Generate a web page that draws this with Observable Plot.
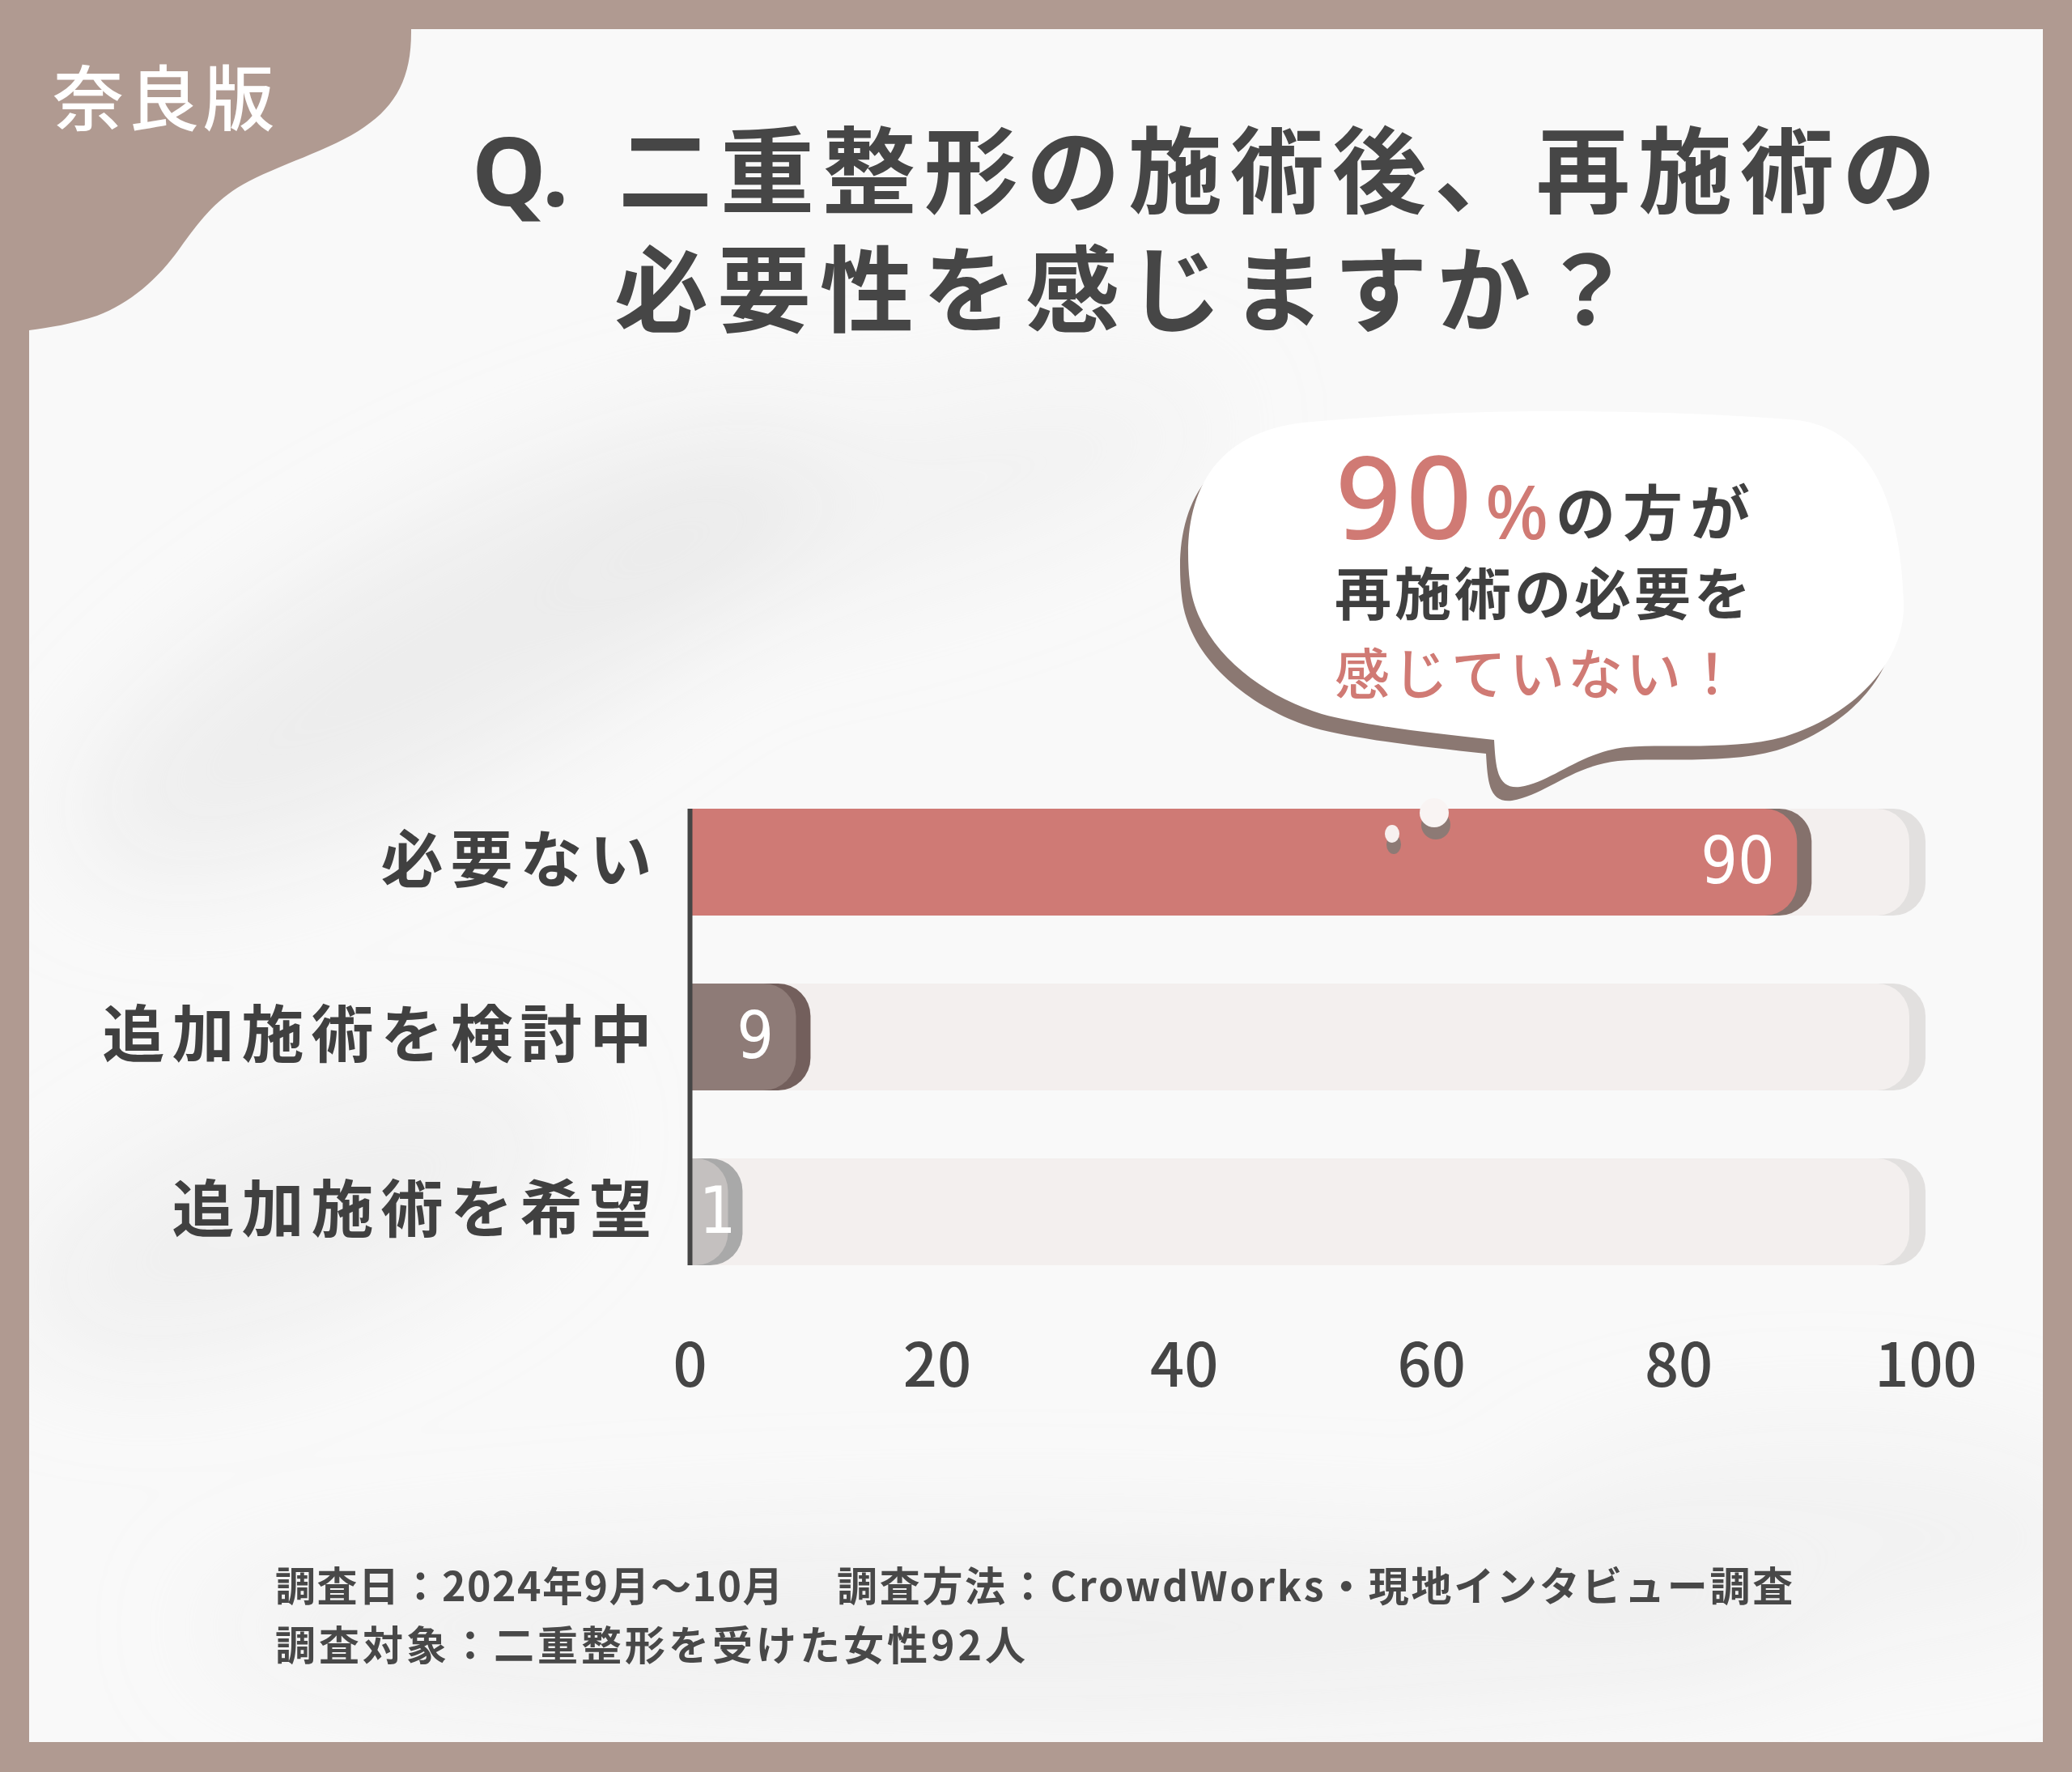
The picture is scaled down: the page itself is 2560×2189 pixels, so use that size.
<!DOCTYPE html>
<html lang="ja">
<head>
<meta charset="utf-8">
<script src="https://cdn.jsdelivr.net/npm/d3@7"></script>
<script src="https://cdn.jsdelivr.net/npm/@observablehq/plot@0.6"></script>
<style>
  html, body { margin: 0; padding: 0; background: #b09a91; }
  #page { position: relative; width: 2560px; height: 2189px; overflow: hidden; background: #b09a91;
          font-family: "Noto Sans CJK JP", "Noto Sans", sans-serif; }
  .layer { position: absolute; left: 0; top: 0; }
  #chart { position: absolute; left: 0; top: 900px; }
  #chart g[aria-label="y-axis tick label"] text { letter-spacing: 9px; font-weight: 700; }
</style>
</head>
<body>
<div id="page">
  <svg class="layer" width="2560" height="2189" id="bg">
    <defs>
      <filter id="soft" x="-50%" y="-50%" width="200%" height="200%"><feGaussianBlur stdDeviation="70"/></filter>
      <clipPath id="panelClip"><rect x="36" y="36" width="2488" height="2116"/></clipPath>
    </defs>
    <rect x="36" y="36" width="2488" height="2116" fill="#f9f9f9"/>
    <g clip-path="url(#panelClip)">
      <g filter="url(#soft)" fill="#e4e4e4">
        <ellipse cx="560" cy="800" rx="520" ry="150" transform="rotate(-28 560 800)" opacity="0.55"/>
        <ellipse cx="360" cy="1500" rx="360" ry="140" transform="rotate(-20 360 1500)" opacity="0.45"/>
        <ellipse cx="1250" cy="2010" rx="1000" ry="110" opacity="0.45"/>
        <ellipse cx="1100" cy="620" rx="420" ry="100" transform="rotate(-15 1100 620)" opacity="0.35"/>
        <ellipse cx="2250" cy="1900" rx="380" ry="130" opacity="0.3"/>
      </g>
    </g>
    <path d="M36 36 H508 V40 C508 95 490 130 450 157 C410 185 340 205 300 228 C265 248 245 275 222 307 C195 345 160 375 120 390 C90 400 60 405 36 408 Z" fill="#b09a91"/>
    <!-- speech bubble -->
    <g transform="translate(-10,17)">
      <path id="bubbleShadow" fill="#8b7872" d=""/>
    </g>
    <path id="bubbleBody" fill="#ffffff" d=""/>
  </svg>
  <div id="chart"></div>
  <svg class="layer" width="2560" height="2189" id="fg"></svg>
</div>
<script>
// ---------- data ----------
const categories = ["必要ない", "追加施術を検討中", "追加施術を希望"];
const values = [90, 9, 1];
const xTicks = [0, 20, 40, 60, 80, 100];
const barColors = ["#cf7a75", "#8e7b77", "#c4c0bf"];
const shadeColors = ["#85716c", "#735f5c", "#a9a9a9"];

const badgeText = "奈良版";
const titleQ = "Q.";
const titleLine1 = "二重整形の施術後、再施術の";
const titleLine2 = "必要性を感じますか？";
const calloutNumber = "90";
const calloutPercent = "%";
const calloutLine1Rest = "の方が";
const calloutLine2 = "再施術の必要を";
const calloutLine3 = "感じていない！";
const footDate = "調査日：2024年9月～10月";
const footMethod = "調査方法：CrowdWorks・現地インタビュー調査";
const footTarget = "調査対象：二重整形を受けた女性92人";

// ---------- style constants ----------
const X_MAX = 100;
const MIN_BAR = 3.5;   // minimum visible bar length (style)
const bubblePath = "M 1470 719 C 1458 610, 1500 535, 1610 522 C 1810 503, 2050 505, 2221 519 C 2305 530, 2348 610, 2352 743 C 2355 810, 2300 880, 2205 910 C 2140 928, 2060 918, 2009 923 C 1950 930, 1920 965, 1878 972 C 1850 975, 1848 950, 1846 914 C 1760 905, 1680 895, 1633 882 C 1560 860, 1478 800, 1470 719 Z";
document.getElementById("bubbleShadow").setAttribute("d", bubblePath);
document.getElementById("bubbleBody").setAttribute("d", bubblePath);

// ---------- chart ----------
const rows = categories.map((c, i) => ({label: c, value: values[i], main: barColors[i], shade: shadeColors[i]}));
const big = rows.filter(d => d.value >= 5);
const small = rows.filter(d => d.value < 5);

const chart = Plot.plot({
  width: 2560,
  height: 900,
  marginLeft: 852,
  marginRight: 181,
  marginTop: 99,
  marginBottom: 237,
  style: {background: "transparent", fontFamily: "'Noto Sans CJK JP', 'Noto Sans', sans-serif", overflow: "visible"},
  x: {domain: [0, X_MAX]},
  y: {domain: categories, paddingInner: 0.39, paddingOuter: 0},
  marks: [
    Plot.barX(rows, {y: "label", x1: 0, x2: X_MAX, fill: "#e2e0df", insetLeft: -60, rx: 40, clip: true}),
    Plot.barX(rows, {y: "label", x1: 0, x2: X_MAX, fill: "#f3efee", insetLeft: -60, insetRight: 20, rx: 40, clip: true}),
    Plot.barX(rows, {y: "label", x1: 0, x2: d => Math.max(d.value, MIN_BAR), fill: d => d.shade, insetLeft: -60, insetRight: -12, rx: 40, clip: true}),
    Plot.barX(rows, {y: "label", x1: 0, x2: d => Math.max(d.value, MIN_BAR), fill: d => d.main, insetLeft: -60, insetRight: 6, rx: 40, clip: true}),
    Plot.text(big, {y: "label", x: "value", text: d => String(d.value), textAnchor: "end", dx: -34, fill: "white",
      fontSize: 80, fontFamily: "'Liberation Sans Narrow', 'DejaVu Sans Condensed', sans-serif"}),
    Plot.text(small, {y: "label", x: "value", text: d => String(d.value), textAnchor: "start", dx: -4, fill: "white",
      fontSize: 80, fontFamily: "'Liberation Sans Narrow', 'DejaVu Sans Condensed', sans-serif"}),
    Plot.ruleX([0], {stroke: "#454545", strokeWidth: 6}),
    Plot.axisY({tickSize: 0, tickPadding: 38, fontSize: 77, fontWeight: 700, fill: "#404040", label: null}),
    Plot.axisX({ticks: xTicks, tickSize: 0, tickPadding: 97, fontSize: 74, fontWeight: 500, fill: "#454545", label: null})
  ]
});
document.getElementById("chart").appendChild(chart);

// ---------- foreground texts & decorations ----------
const fg = d3.select("#fg");
function txt(x, y, s, size, color, weight, ls, family) {
  return fg.append("text").attr("x", x).attr("y", y).text(s)
    .attr("font-size", size).attr("fill", color).attr("font-weight", weight)
    .attr("letter-spacing", ls || 0)
    .attr("font-family", family || "'Noto Sans CJK JP', 'Noto Sans', sans-serif");
}
// badge
txt(65, 154, badgeText, 88, "#ffffff", 500, 5);
// title
const titleColor = "#464646";
txt(583, 254, titleQ, 116, titleColor, 700, 0, "'Noto Sans', 'Noto Sans CJK JP', sans-serif");
txt(764, 254, titleLine1, 116, titleColor, 700, 10);
txt(759, 401, titleLine2, 116, titleColor, 700, 11);
// callout
const salmon = "#d07a74";
txt(1650, 666, calloutNumber, 142, salmon, 500, 6, "'Noto Sans', sans-serif");
txt(1835, 666, calloutPercent, 92, salmon, 500, 0, "'Noto Sans', sans-serif");
txt(1922, 661, calloutLine1Rest, 74, "#404040", 700, 9);
txt(1649, 760, calloutLine2, 70, "#3f3f3f", 700, 4);
txt(1649, 858, calloutLine3, 68, salmon, 500, 4);
// decorative droplets
fg.append("ellipse").attr("cx", 1722).attr("cy", 1043).attr("rx", 9).attr("ry", 12).attr("fill", "#8d7a75");
fg.append("ellipse").attr("cx", 1720).attr("cy", 1030).attr("rx", 9).attr("ry", 11).attr("fill", "#f7f0ef");
fg.append("circle").attr("cx", 1774).attr("cy", 1019).attr("r", 18).attr("fill", "#8d7a75");
fg.append("circle").attr("cx", 1772).attr("cy", 1004).attr("r", 18).attr("fill", "#f9f4f3");
// footer
txt(340, 1978, footDate, 50, "#484848", 700, 1.5);
txt(1034, 1978, footMethod, 50, "#484848", 700, 2.7);
txt(340, 2051, footTarget, 50, "#484848", 700, 4);
</script>
</body>
</html>
